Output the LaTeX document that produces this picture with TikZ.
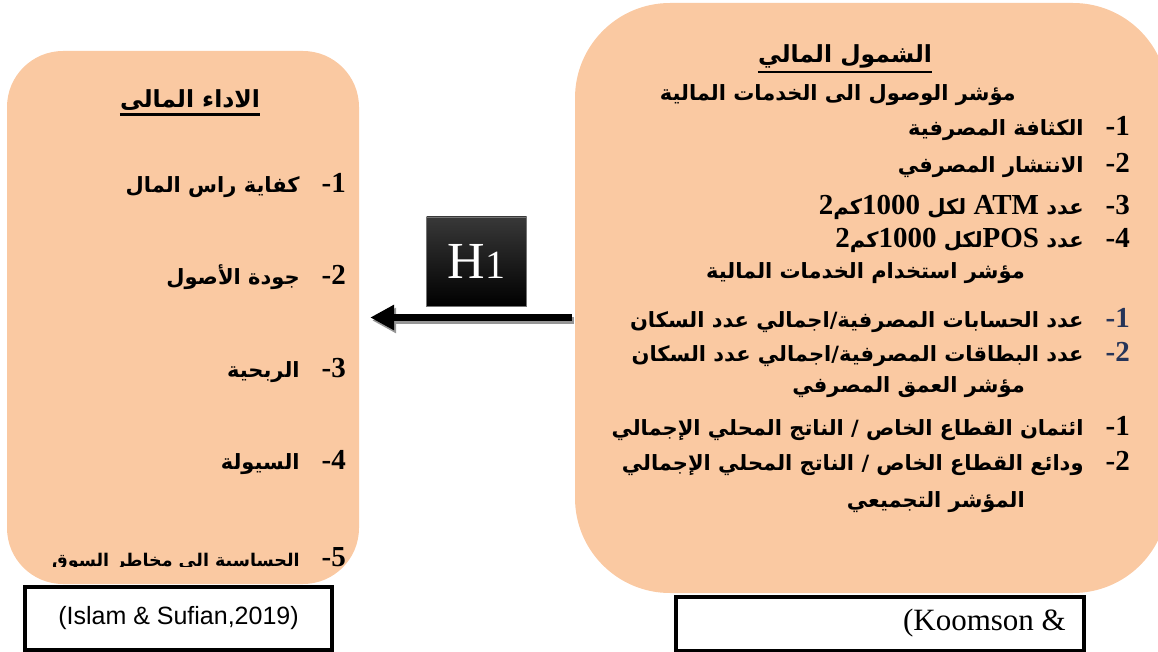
\documentclass[tikz,border=0pt]{standalone}
\usepackage{fontspec}
\setmainfont{Liberation Serif}
\newfontfamily\arabicfont[Script=Arabic]{DejaVu Sans}
\newfontfamily\citesans{Liberation Sans}
\TeXXeTstate=1
\usetikzlibrary{arrows.meta, positioning, calc}
\definecolor{peachbg}{RGB}{250, 201, 162}
\definecolor{navydigit}{RGB}{38, 52, 88}
\definecolor{shadowgray}{RGB}{150, 150, 150}

\newcommand{\artxt}[1]{{\arabicfont\bfseries\beginR #1\endR}}
\newcommand{\numtxt}[1]{{\rmfamily\bfseries\fontsize{29}{32}\selectfont #1}}

\begin{document}
\begin{tikzpicture}[
    x=1pt, y=-1pt,
    font=\fontsize{21}{25}\selectfont,
    panel/.style={
        rectangle, draw=none, fill=peachbg, inner sep=0pt
    },
    ttl/.style={
        inner sep=0pt, font=\fontsize{23.5}{27}\selectfont
    },
    item/.style={
        anchor=east, inner sep=0pt
    },
    citebox/.style={
        rectangle, draw=black, fill=white, line width=4pt, inner sep=0pt
    },
    hypbox/.style={
        rectangle, draw=black!55, line width=0.6pt, top color=black!78, bottom color=black,
        text=white, inner sep=0pt, minimum width=100pt, minimum height=89pt
    },
    arrow/.style={
        -{Triangle[length=24pt, width=24pt]}, line width=7pt
    },
    uline/.style={
        line width=2.6pt
    }
]
\useasboundingbox (0,0) rectangle (1158,652);

% 1. Paineis
\node[panel, rounded corners=56pt, minimum width=352pt, minimum height=533pt] (perf) at (183, 317.5) {};
\node[panel, rounded corners=95pt, minimum width=593pt, minimum height=590pt] (incl) at (871.5, 298) {};

% 2. Painel esquerdo
\node[ttl] (ptitle) at (190, 100) {\artxt{الاداء المالى}};
\draw[uline] ([yshift=-4pt]ptitle.south west) -- ([yshift=-4pt]ptitle.south east);

\node[item] (p1) at (346, 185) {\artxt{كفاية راس المال}\hspace{22pt}\numtxt{-1}};
\node[item] (p2) at (346, 277) {\artxt{جودة الأصول}\hspace{22pt}\numtxt{-2}};
\node[item] (p3) at (346, 370) {\artxt{الربحية}\hspace{22pt}\numtxt{-3}};
\node[item] (p4) at (346, 463) {\artxt{السيولة}\hspace{22pt}\numtxt{-4}};
\begin{scope}
    \clip (0,0) rectangle (1158,566);
    \node[item] (p5) at (346, 559) {{\fontsize{17.5}{20}\selectfont\artxt{الحساسية الى مخاطر السوق}}\hspace{22pt}\numtxt{-5}};
\end{scope}

% 3. Painel direito
\node[ttl] (ititle) at (845, 56) {\artxt{الشمول المالي}};
\draw[uline] ([yshift=-4pt]ititle.south west) -- ([yshift=-4pt]ititle.south east);

\node[item] (ih1) at (1016, 95) {\artxt{مؤشر الوصول الى الخدمات المالية}};
\node[item] (i1) at (1130, 128) {\artxt{الكثافة المصرفية}\hspace{22pt}\numtxt{-1}};
\node[item] (i2) at (1130, 165) {\artxt{الانتشار المصرفي}\hspace{22pt}\numtxt{-2}};
\node[item] (i3) at (1130, 207) {\artxt{عدد \numtxt{ATM} لكل \numtxt{1000}كم\numtxt{2}}\hspace{22pt}\numtxt{-3}};
\node[item] (i4) at (1130, 240) {\artxt{عدد \numtxt{POS}لكل \numtxt{1000}كم\numtxt{2}}\hspace{22pt}\numtxt{-4}};

\node[item] (ih2) at (1025, 273) {\artxt{مؤشر استخدام الخدمات المالية}};
\node[item] (i5) at (1130, 320) {\artxt{عدد الحسابات المصرفية/اجمالي عدد السكان}\hspace{22pt}\numtxt{\color{navydigit}-1}};
\node[item] (i6) at (1130, 354) {\artxt{عدد البطاقات المصرفية/اجمالي عدد السكان}\hspace{22pt}\numtxt{\color{navydigit}-2}};

\node[item] (ih3) at (1025, 387) {\artxt{مؤشر العمق المصرفي}};
\node[item] (i7) at (1130, 428) {\artxt{ائتمان القطاع الخاص / الناتج المحلي الإجمالي}\hspace{22pt}\numtxt{-1}};
\node[item] (i8) at (1130, 463) {\artxt{ودائع القطاع الخاص / الناتج المحلي الإجمالي}\hspace{22pt}\numtxt{-2}};
\node[item] (ih4) at (1025, 502) {\artxt{المؤشر التجميعي}};

% 4. Fontes
\node[citebox, minimum width=307pt, minimum height=63pt] (src1) at (178.5, 618.5)
    {\citesans\fontsize{25}{28}\selectfont (Islam \& Sufian,2019)};
\node[citebox, minimum width=408pt, minimum height=54pt] (src2) at (880, 623.5) {};
\node[anchor=east, inner sep=0pt, font=\fontsize{31}{34}\selectfont] (src2txt) at ([xshift=-20pt]src2.east) {(Koomson \&};

% 5. Hipotese H1
\node[hypbox] (hyp) at (476.5, 261.5) {\fontsize{52}{52}\selectfont H\fontsize{40}{40}\selectfont 1};
\draw[arrow, shadowgray, transform canvas={shift={(2pt,-3pt)}}] ([xshift=-3pt]incl.west |- perf.east) -- ([xshift=11pt]perf.east);
\draw[arrow] ([xshift=-3pt]incl.west |- perf.east) -- ([xshift=11pt]perf.east);

\end{tikzpicture}
\end{document}
